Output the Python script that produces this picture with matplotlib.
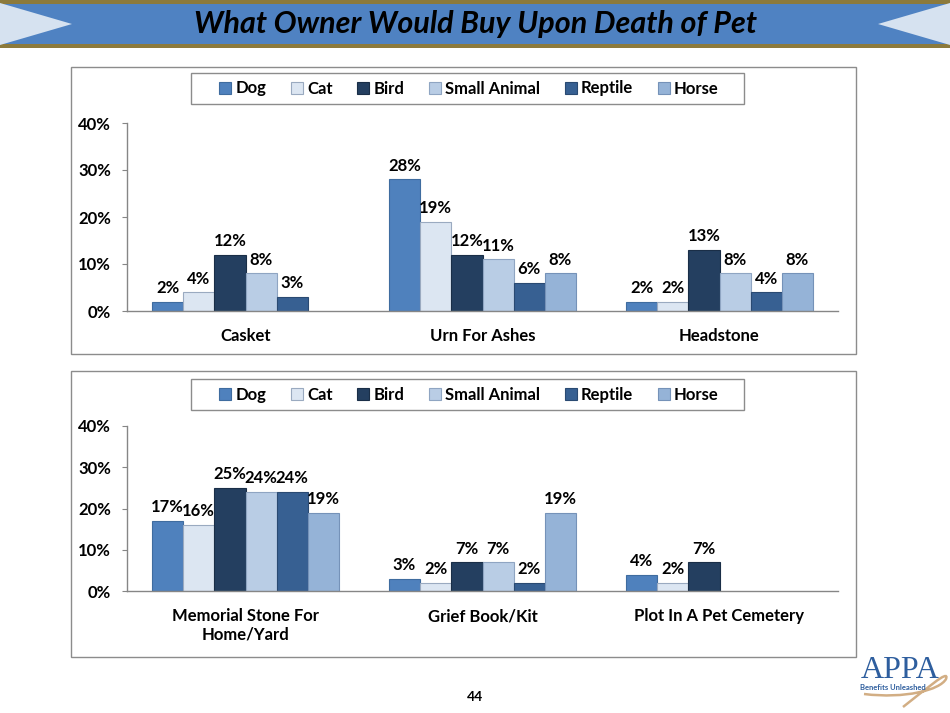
import numpy as np
import matplotlib
matplotlib.use("Agg")
import matplotlib.pyplot as plt
from matplotlib.patches import Rectangle, Polygon, PathPatch
from matplotlib.path import Path

plt.rcParams['font.family'] = ['Lato', 'DejaVu Sans']

series = ["Dog", "Cat", "Bird", "Small Animal", "Reptile", "Horse"]
colors = ["#4F81BD", "#DCE6F2", "#243F60", "#B9CDE5", "#376092", "#95B3D7"]
edges = ["#3F6C9F", "#9AAAC0", "#1A2E47", "#8FA5C2", "#2A4A72", "#7592B8"]

cats1 = ["Casket", "Urn For Ashes", "Headstone"]
vals1 = {
    "Dog": [2, 28, 2],
    "Cat": [4, 19, 2],
    "Bird": [12, 12, 13],
    "Small Animal": [8, 11, 8],
    "Reptile": [3, 6, 4],
    "Horse": [np.nan, 8, 8],
}
cats2 = ["Memorial Stone For\nHome/Yard", "Grief Book/Kit", "Plot In A Pet Cemetery"]
vals2 = {
    "Dog": [17, 3, 4],
    "Cat": [16, 2, 2],
    "Bird": [25, 7, 7],
    "Small Animal": [24, 7, np.nan],
    "Reptile": [24, 2, np.nan],
    "Horse": [19, 19, np.nan],
}
yticks = [0, 10, 20, 30, 40]
title = "What Owner Would Buy Upon Death of Pet"
page = "44"

W, H = 950, 713
fig = plt.figure(figsize=(W / 100, H / 100), dpi=100)

def fx(x):
    return x / W

def fy(y):
    return 1 - y / H

def frect(x0, y0, x1, y1, **kw):
    r = Rectangle((fx(x0), fy(y1)), (x1 - x0) / W, (y1 - y0) / H,
                  transform=fig.transFigure, **kw)
    fig.patches.append(r)
    return r

# Banner
frect(0, 0, W, 48, facecolor="#8C7A3C", edgecolor="none", zorder=1)
frect(0, 4, W, 44, facecolor="#4F82C2", edgecolor="none", zorder=1.1)
fig.patches.append(Polygon([(0, fy(3)), (fx(72), fy(24)), (0, fy(45))], closed=True,
                           transform=fig.transFigure, facecolor="#D6E2F0",
                           edgecolor="none", zorder=1.2))
fig.patches.append(Polygon([(1, fy(3)), (fx(878), fy(24)), (1, fy(45))], closed=True,
                           transform=fig.transFigure, facecolor="#D6E2F0",
                           edgecolor="none", zorder=1.2))
fig.text(0.5, fy(24), title, ha="center", va="center", fontsize=22,
         fontweight="bold", fontstyle="italic", color="black", zorder=3)

# Panel boxes
for (y0, y1) in [(67, 354), (371, 657)]:
    frect(71, y0, 856, y1, facecolor="none", edgecolor="#8C8C8C", linewidth=1, zorder=-1)

def draw(ax, cats, vals, legend_y):
    n = len(series)
    w = 1 / (n + 1.6)
    x = np.arange(len(cats))
    for i, s in enumerate(series):
        v = np.array(vals[s], dtype=float)
        pos = x + (i - (n - 1) / 2) * w
        ax.bar(pos, v, width=w, color=colors[i], edgecolor=edges[i],
               linewidth=0.8, label=s, zorder=2)
        for p, val in zip(pos, v):
            if np.isnan(val):
                continue
            ax.annotate(f"{int(val)}%", (p, val), xytext=(0, 4),
                        textcoords="offset points", ha="center", va="bottom",
                        fontsize=12, fontweight="bold", color="black")
    ax.set_xlim(-0.5, len(cats) - 0.5)
    ax.set_ylim(0, 40)
    ax.set_yticks(yticks)
    ax.set_yticklabels([f"{t}%" for t in yticks], fontsize=12, fontweight="bold")
    ax.set_xticks(x)
    ax.set_xticklabels(cats, fontsize=12, fontweight="bold")
    ax.tick_params(axis="x", length=0, pad=12.5)
    ax.tick_params(axis="y", length=3.6, color="#868686", pad=8)
    for sp in ["top", "right"]:
        ax.spines[sp].set_visible(False)
    for sp in ["left", "bottom"]:
        ax.spines[sp].set_color("#868686")
        ax.spines[sp].set_linewidth(1)
    ax.set_facecolor("none")
    frect(191, legend_y - 15.5, 744, legend_y + 15.5, facecolor="none",
          edgecolor="#8C8C8C", linewidth=1, zorder=-1)
    fig.legend(*ax.get_legend_handles_labels(), loc="center",
               bbox_to_anchor=(fx(469), fy(legend_y)), ncol=6,
               frameon=False, handlelength=0.7, handleheight=0.7,
               handletextpad=0.25, columnspacing=1.5, borderpad=0.3,
               prop={"size": 12, "weight": "bold"})

ax1 = fig.add_axes([fx(127), fy(311), (838 - 127) / W, (311 - 123) / H])
draw(ax1, cats1, vals1, 88.5)
ax2 = fig.add_axes([fx(127), fy(591), (838 - 127) / W, (591 - 426) / H])
draw(ax2, cats2, vals2, 394.5)

fig.text(fx(475), fy(697), page, ha="center", va="center", fontsize=10,
         fontweight="bold")

# Logo approximation (leash loop + text)
leash_pts = [(864, 694), (905, 699), (940, 690), (946, 679),
             (950, 668), (925, 690), (903, 707)]
leash_codes = [Path.MOVETO, Path.CURVE4, Path.CURVE4, Path.CURVE4,
               Path.CURVE4, Path.CURVE4, Path.CURVE4]
leash = Path([(fx(a), fy(b)) for a, b in leash_pts], leash_codes)
fig.patches.append(PathPatch(leash, transform=fig.transFigure, facecolor="none",
                             edgecolor="#D2AE84", linewidth=1.8, zorder=2))
fig.text(fx(900), fy(670), "APPA", ha="center", va="center", fontsize=23,
         family=["Liberation Serif", "DejaVu Serif"], color="#2E5E9E", zorder=3)
fig.text(fx(893), fy(688), "Benefits Unleashed", ha="center", va="center",
         fontsize=5.5, fontweight="bold", color="#2E5E9E", zorder=3)

fig.savefig("out.png", dpi=100)
